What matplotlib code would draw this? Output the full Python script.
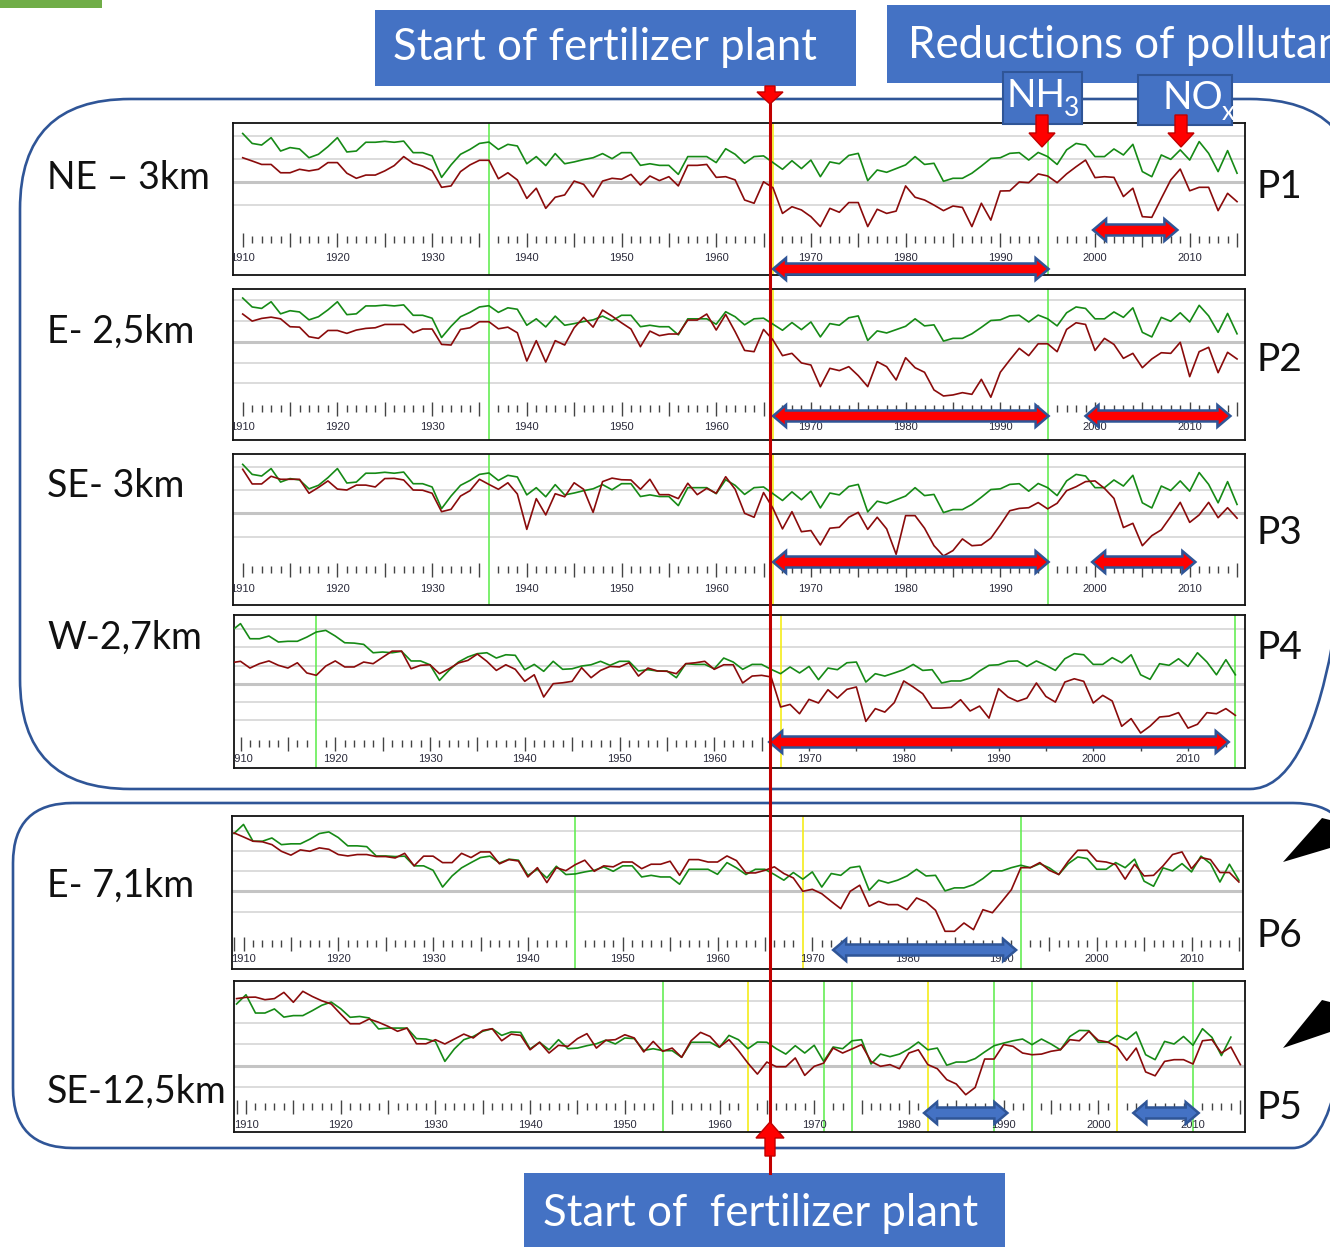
import numpy as np
import matplotlib.pyplot as plt
from matplotlib.patches import Rectangle, FancyBboxPatch, Polygon

plt.rcParams['font.family'] = ['Lato', 'DejaVu Sans']

W, H = 1330, 1247
fig = plt.figure(figsize=(W / 100, H / 100), dpi=100)

# ring-width deviations (grid units)
years_a = np.arange(1910, 2016)   # P1-P3
years_b = np.arange(1909, 2016)   # P4-P6

green_ref = [2.1, 1.67, 1.6, 1.92, 1.34, 1.49, 1.43, 1.05, 1.2, 1.53,
             1.92, 1.3, 1.34, 1.72, 1.72, 1.76, 1.72, 1.77, 1.27, 1.27,
             1.13, 0.2, 0.74, 1.2, 1.41, 1.67, 1.73, 1.41, 1.63, 1.56,
             0.79, 1.1, 0.71, 1.23, 0.79, 0.87, 0.97, 1.05, 1.23, 1.01,
             1.27, 1.27, 0.72, 0.79, 0.72, 0.72, 0.33, 1.1, 1.1, 1.1,
             0.84, 1.44, 1.2, 0.81, 1.1, 1.13, 0.84, 0.55, 0.92, 0.58,
             0.95, 0.23, 0.87, 0.79, 1.15, 1.24, 0.06, 0.52, 0.42, 0.58,
             0.74, 1.1, 0.76, 0.81, 0.03, 0.16, 0.16, 0.38, 0.69, 1.02,
             1.05, 1.24, 1.27, 0.95, 1.28, 1.1, 0.76, 1.39, 1.67, 1.6,
             1.1, 1.1, 1.43, 1.17, 1.63, 0.45, 0.23, 1.17, 0.98, 1.39,
             0.95, 1.75, 1.24, 0.45, 1.36, 0.38]

red_p1 = [1.05, 0.91, 0.76, 0.76, 0.40, 0.40, 0.55, 0.48, 0.55, 0.84,
          0.84, 0.38, 0.16, 0.30, 0.30, 0.48, 0.71, 1.10, 0.81, 0.69,
          0.49, -0.23, -0.17, 0.45, 0.74, 0.94, 0.94, 0.14, 0.40, 0.09,
          -0.71, -0.27, -1.14, -0.66, -0.56, 0.04, -0.10, -0.65, 0.04, 0.16,
          0.12, 0.33, -0.13, 0.26, 0.06, 0.23, -0.17, 0.72, 0.72, 0.76,
          0.20, 0.23, 0.09, -0.78, -0.92, 0.01, -0.25, -1.36, -1.07, -1.21,
          -1.5, -1.93, -1.14, -1.31, -0.89, -0.89, -1.93, -1.18, -1.36, -1.26,
          -0.17, -0.66, -0.78, -1.0, -1.24, -1.04, -1.1, -1.93, -0.92, -1.65,
          -0.39, -0.38, 0.0, -0.03, 0.35, 0.26, -0.03, 0.35, 0.66, 0.95,
          0.19, 0.23, 0.2, -0.63, -0.27, -1.5, -1.53, -0.71, 0.09, 0.56,
          -0.38, -0.23, -0.23, -1.24, -0.49, -0.85]

red_p2 = [1.33, 0.99, 1.12, 1.18, 1.1, 0.72, 0.7, 0.24, 0.16, 0.54,
          0.54, 0.4, 0.56, 0.64, 0.67, 0.83, 0.83, 0.83, 0.43, 0.61,
          0.61, -0.13, -0.16, 0.59, 0.67, 0.96, 0.96, 0.62, 0.7, 0.43,
          -0.93, 0.05, -0.98, 0.05, -0.16, 0.67, 1.17, 0.7, 1.52, 1.23,
          0.91, 0.61, -0.24, 0.51, 0.29, 0.37, 0.37, 1.04, 1.04, 1.33,
          0.56, 1.31, 0.48, -0.42, -0.48, 0.59, 0.08, -0.67, -0.56, -1.02,
          -1.12, -2.16, -1.28, -1.39, -1.2, -1.63, -2.16, -0.96, -1.2, -1.84,
          -0.77, -1.25, -1.47, -2.32, -2.61, -2.56, -2.45, -2.53, -1.81, -2.67,
          -1.47, -0.88, -0.32, -0.67, -0.1, -0.1, -0.48, 0.59, 0.91, 0.83,
          -0.42, 0.16, -0.13, -0.8, -0.56, -1.25, -0.83, -0.53, -0.56, -0.03,
          -1.68, -0.48, -0.27, -1.49, -0.51, -0.83]

red_p3 = [1.89, 1.26, 1.26, 1.59, 1.46, 1.46, 1.46, 0.86, 1.11, 1.39,
          1.04, 1.0, 1.21, 1.21, 1.13, 1.49, 1.5, 1.43, 1.0, 0.99,
          0.86, 0.07, 0.17, 0.74, 0.97, 1.46, 1.24, 1.03, 1.31, 0.83,
          -0.69, 0.63, -0.07, 0.84, 0.71, 1.31, 1.03, 0.04, 1.36, 1.51,
          1.44, 1.43, 1.03, 1.46, 0.8, 0.8, 0.63, 1.29, 0.8, 1.07,
          0.86, 1.57, 1.03, 0.0, -0.17, 0.89, 0.21, -0.67, 0.07, -0.79,
          -0.74, -1.36, -0.64, -0.6, -0.17, 0.04, -0.69, -0.17, -0.67, -1.76,
          -0.1, -0.1, -0.64, -1.39, -1.83, -1.6, -1.1, -1.39, -1.36, -1.07,
          -0.5, 0.11, 0.21, 0.24, 0.46, 0.19, 0.43, 0.97, 1.14, 1.36,
          1.39, 1.07, 0.64, -0.61, -0.43, -1.39, -0.96, -0.71, -0.14, 0.47,
          -0.39, -0.07, 0.47, -0.19, 0.24, -0.21]

green_p4 = [2.89,
            3.3, 2.47, 2.47, 2.62, 2.29, 2.33, 2.33, 2.56, 2.84, 2.93,
            2.62, 2.25, 2.23, 2.16, 1.7, 1.74, 1.7, 1.78, 1.25, 1.25,
            1.04, 0.18, 0.73, 1.19, 1.47, 1.65, 1.7, 1.41, 1.59, 1.56,
            0.77, 1.06, 0.68, 1.23, 0.79, 0.82, 0.97, 1.04, 1.23, 1.01,
            1.23, 1.23, 0.7, 0.77, 0.7, 0.7, 0.33, 1.1, 1.06, 1.06,
            0.82, 1.41, 1.19, 0.79, 1.06, 1.06, 0.79, 0.55, 0.92, 0.59,
            0.95, 0.22, 0.86, 0.77, 1.15, 1.19, 0.09, 0.55, 0.42, 0.59,
            0.77, 1.06, 0.73, 0.77, 0.04, 0.15, 0.15, 0.31, 0.7, 1.01,
            1.04, 1.23, 1.25, 0.95, 1.25, 1.01, 0.73, 1.37, 1.65, 1.59,
            1.06, 1.06, 1.43, 1.15, 1.59, 0.49, 0.24, 1.1, 1.01, 1.37,
            0.95, 1.7, 1.19, 0.49, 1.32, 0.49]

red_p4 = [1.15,
          1.23, 0.86, 1.1, 1.25, 1.01, 0.86, 1.15, 0.59, 0.46, 0.97,
          1.25, 0.92, 0.92, 1.19, 1.1, 1.45, 1.79, 1.79, 0.82, 1.01,
          1.04, 0.55, 0.82, 1.14, 1.28, 1.63, 1.23, 0.73, 1.04, 0.79,
          0.13, 0.49, -0.73, 0.0, 0.05, 0.13, 0.88, 0.33, 0.73, 0.95,
          0.92, 1.15, 0.42, 0.86, 0.7, 0.68, 0.55, 1.1, 1.15, 1.23,
          0.79, 1.04, 1.04, 0.04, 0.42, 0.46, 0.37, -1.28, -1.14, -1.65,
          -0.86, -1.06, -0.33, -0.79, -0.31, -0.18, -2.07, -1.37, -1.56, -1.04,
          0.15, -0.18, -0.55, -1.34, -1.34, -1.3, -0.88, -1.5, -1.23, -1.89,
          -0.27, -0.73, -0.97, -0.79, 0.04, -0.7, -1.01, 0.09, 0.27, 0.13,
          -1.06, -0.64, -0.95, -2.34, -1.92, -2.71, -2.33, -1.83, -1.78, -1.59,
          -2.44, -2.23, -1.59, -1.65, -1.37, -1.74]

green_p6 = [2.86,
            3.31, 2.48, 2.48, 2.64, 2.31, 2.35, 2.35, 2.58, 2.86, 2.94,
            2.66, 2.25, 2.25, 2.21, 1.75, 1.75, 1.72, 1.74, 1.26, 1.26,
            1.04, 0.21, 0.76, 1.16, 1.42, 1.67, 1.74, 1.4, 1.59, 1.54,
            0.79, 1.09, 0.66, 1.24, 0.83, 0.86, 0.96, 1.04, 1.21, 0.99,
            1.26, 1.26, 0.71, 0.79, 0.71, 0.71, 0.35, 1.09, 1.09, 1.09,
            0.84, 1.42, 1.16, 0.83, 1.09, 1.09, 0.83, 0.55, 0.93, 0.6,
            0.96, 0.21, 0.88, 0.79, 1.17, 1.24, 0.05, 0.55, 0.41, 0.55,
            0.76, 1.09, 0.76, 0.79, 0.02, 0.17, 0.17, 0.33, 0.63, 1.01,
            1.01, 1.17, 1.29, 1.17, 1.37, 1.16, 0.83, 1.37, 1.7, 1.62,
            1.09, 1.09, 1.42, 1.17, 1.59, 0.5, 0.25, 1.16, 1.01, 1.37,
            0.96, 1.74, 1.37, 0.46, 1.34, 0.55]

red_p6 = [2.89,
          2.69, 2.48, 2.45, 2.31, 1.98, 1.79, 2.05, 1.98, 2.15, 2.08,
          1.82, 1.75, 1.82, 1.82, 1.72, 1.72, 1.65, 1.88, 1.26, 1.74,
          1.74, 1.42, 1.42, 1.88, 1.67, 1.95, 1.95, 1.36, 1.57, 1.5,
          0.71, 1.17, 0.43, 1.17, 1.02, 1.32, 1.54, 0.99, 1.26, 1.21,
          1.45, 1.45, 1.12, 1.34, 1.34, 1.49, 0.79, 1.57, 1.57, 1.45,
          1.45, 1.75, 1.52, 0.91, 0.91, 1.04, 1.21, 0.88, 0.66, 0.0,
          0.1, -0.12, -0.5, -0.86, 0.0, 0.3, -0.74, -0.5, -0.66, -0.66,
          -0.91, -0.33, -0.53, -0.94, -1.98, -1.98, -1.57, -1.9, -0.91, -1.06,
          -0.5, 0.08, 1.17, 1.17, 1.42, 1.04, 0.83, 1.49, 2.03, 2.03,
          1.5, 1.45, 1.32, 0.6, 1.34, 0.76, 0.79, 1.26, 1.82, 1.95,
          1.12, 1.67, 1.57, 0.93, 0.93, 0.46]

green_p5 = [2.87,
            3.3, 2.45, 2.45, 2.64, 2.26, 2.33, 2.33, 2.56, 2.81, 2.96,
            2.65, 2.25, 2.29, 2.22, 1.71, 1.75, 1.75, 1.75, 1.26, 1.24,
            1.13, 0.2, 0.78, 1.21, 1.36, 1.6, 1.72, 1.41, 1.57, 1.55,
            0.78, 1.09, 0.74, 1.21, 0.79, 0.82, 0.93, 1.02, 1.19, 1.01,
            1.29, 1.26, 0.71, 0.79, 0.7, 0.7, 0.39, 1.09, 1.09, 1.09,
            0.85, 1.41, 1.21, 0.79, 1.1, 1.09, 0.79, 0.54, 0.93, 0.59,
            0.95, 0.2, 0.87, 0.79, 1.16, 1.21, 0.08, 0.54, 0.42, 0.54,
            0.78, 1.1, 0.74, 0.82, 0.02, 0.17, 0.17, 0.33, 0.64, 0.93,
            1.05, 1.16, 1.24, 0.98, 1.24, 1.01, 0.74, 1.36, 1.64, 1.63,
            1.09, 1.09, 1.41, 1.21, 1.57, 0.51, 0.28, 1.13, 1.01, 1.36,
            0.95, 1.72, 1.32, 0.47, 1.33, np.nan]

red_p5 = [3.12,
          3.18, 3.19, 3.07, 3.12, 3.41, 2.95, 3.46, 3.22, 3.02, 2.87,
          2.4, 1.95, 1.95, 2.17, 2.02, 1.83, 1.6, 1.75, 1.02, 1.02,
          1.21, 1.01, 1.24, 1.47, 1.29, 1.64, 1.72, 1.16, 1.47, 1.41,
          0.74, 1.09, 0.59, 0.95, 0.9, 1.26, 1.49, 0.82, 1.18, 1.21,
          1.44, 1.29, 0.64, 1.13, 0.67, 0.82, 0.39, 1.16, 1.55, 1.36,
          0.87, 1.21, 0.7, 0.12, -0.39, 0.17, -0.05, -0.05, 0.36, -0.45,
          -0.03, 0.12, 0.82, 0.59, 0.78, 0.98, 0.2, -0.03, 0.05, -0.14,
          0.59, 0.74, 0.05, -0.14, -0.65, -0.85, -1.35, -1.01, 0.31, 0.31,
          0.98, 0.9, 0.59, 0.51, 0.54, 0.67, 0.74, 1.21, 1.16, 1.6,
          1.18, 1.1, 0.87, 0.25, 0.82, -0.29, -0.47, 0.2, 0.28, 0.28,
          0.08, 1.16, 1.21, 0.59, 0.87, 0.05]

site_labels = ['NE – 3km', 'E- 2,5km', 'SE- 3km', 'W-2,7km', 'E- 7,1km', 'SE-12,5km']
plot_labels = ['P1', 'P2', 'P3', 'P4', 'P6', 'P5']

# marker lines in each panel (year, colour)
markers = [
    [(1936, 'g'), (1966, 'y'), (1995, 'g')],
    [(1936, 'g'), (1966, 'y'), (1995, 'g')],
    [(1936, 'g'), (1966, 'y'), (1995, 'g')],
    [(1918, 'g'), (1967, 'y'), (2015, 'g')],
    [(1945, 'g'), (1969, 'y'), (1992, 'g')],
    [(1954, 'g'), (1963, 'y'), (1971, 'g'), (1974, 'g'), (1982, 'y'),
     (1989, 'g'), (1993, 'g'), (2002, 'y'), (2010, 'g')],
]

# reduction periods (start year, end year, style)
periods = [
    [(1966.0, 1995.1, 'red', 'low'), (1999.8, 2008.7, 'red', 'mid')],
    [(1966.0, 1995.1, 'red', 'low'), (1999.0, 2014.3, 'red', 'low')],
    [(1966.0, 1995.1, 'red', 'mid'), (1999.7, 2010.6, 'red', 'mid')],
    [(1965.8, 2014.3, 'red', 'low')],
    [(1972.2, 1991.5, 'blue', 'low')],
    [(1981.6, 1990.4, 'blue', 'low'), (2003.7, 2010.6, 'blue', 'low')],
]

# panel layout in pixels: frame, year-1910 x position, px per year,
# zero-line y, px per grid unit, grid units, tick top y, label y, arrow y
panels = [
    dict(frame=(233, 123, 1245, 275), x0=242.7, ppy=9.47, yz=182.0, sp=23.1,
         grid=[2, 1, 0, -1], tick=233, lab=258, arr={'low': 269, 'mid': 230},
         years=years_a, green=green_ref, red=red_p1),
    dict(frame=(233, 289, 1245, 440), x0=242.7, ppy=9.47, yz=341.7, sp=20.8,
         grid=[2, 1, 0, -1, -2], tick=402, lab=427, arr={'low': 416, 'mid': 416},
         years=years_a, green=green_ref, red=red_p2),
    dict(frame=(233, 454, 1245, 605), x0=242.7, ppy=9.47, yz=513.3, sp=23.3,
         grid=[2, 1, 0, -1], tick=563, lab=589, arr={'low': 562, 'mid': 562},
         years=years_a, green=green_ref, red=red_p3),
    dict(frame=(234, 615, 1245, 768), x0=240.5, ppy=9.475, yz=683.7, sp=18.2,
         grid=[3, 2, 1, 0, -1, -2], tick=737, lab=759, arr={'low': 742},
         years=years_b, green=green_p4, red=red_p4),
    dict(frame=(232, 816, 1243, 969), x0=243.5, ppy=9.48, yz=891.3, sp=20.2,
         grid=[3, 2, 1, 0, -1], tick=937, lab=959, arr={'low': 950},
         years=years_b, green=green_p6, red=red_p6),
    dict(frame=(234, 981, 1245, 1132), x0=246.0, ppy=9.47, yz=1065.7, sp=21.5,
         grid=[3, 2, 1, 0, -1], tick=1100, lab=1125, arr={'low': 1113},
         years=years_b, green=green_p5, red=red_p5),
]
label_y = [178, 332, 486, 638, 886, 1092]
plabel_y = [187, 360, 533, 648, 936, 1108]

BLUE = '#4472C4'
EDGE = '#2F5597'


def px_axes(x0, y0, x1, y1, **kw):
    return fig.add_axes([x0 / W, 1 - y1 / H, (x1 - x0) / W, (y1 - y0) / H], **kw)


def dbl_arrow(ax, xa, xb, yc, hpx, ph, ppy, fc):
    hh = hpx / ph / 2
    sh = hh * 0.5
    hl = 13 / ppy
    v = [(xa, yc), (xa + hl, yc + hh), (xa + hl, yc + sh), (xb - hl, yc + sh),
         (xb - hl, yc + hh), (xb, yc), (xb - hl, yc - hh), (xb - hl, yc - sh),
         (xa + hl, yc - sh), (xa + hl, yc - hh)]
    ax.add_patch(Polygon(v, closed=True, transform=ax.get_xaxis_transform(),
                         fc=fc, ec=EDGE, lw=1.8, clip_on=False, zorder=6))


for i, p in enumerate(panels):
    fx0, fy0, fx1, fy1 = p['frame']
    ph = fy1 - fy0
    ax = px_axes(fx0, fy0, fx1, fy1)
    ax.set_xlim(1910 + (fx0 - p['x0']) / p['ppy'], 1910 + (fx1 - p['x0']) / p['ppy'])
    ax.set_ylim((p['yz'] - fy1) / p['sp'], (p['yz'] - fy0) / p['sp'])
    ax.set_xticks([])
    ax.set_yticks([])
    for s in ax.spines.values():
        s.set_linewidth(1.3)
        s.set_color('#111111')

    for g in p['grid']:
        ax.axhline(g, color='#c4c4c4' if g == 0 else '#d6d6d6',
                   lw=2.2 if g == 0 else 1.2, zorder=1)

    skip = [m[0] for m in markers[i]]
    for yr, c in markers[i]:
        ax.axvline(yr, color='#66ee55' if c == 'g' else '#f5ec1a', lw=1.2, zorder=2)

    # year ticks drawn inside the frame
    frac = lambda ypx: (fy1 - ypx) / ph
    yrs = [y for y in range(p['years'][0], 2016) if y not in skip]
    long_t = [y for y in yrs if y % 5 == 0 or y == p['years'][0]]
    short_t = [y for y in yrs if y not in long_t]
    tr = ax.get_xaxis_transform()
    ax.vlines(long_t, frac(p['tick'] + 14), frac(p['tick']), transform=tr,
              color='#444444', lw=1.0, zorder=3)
    ax.vlines(short_t, frac(p['tick'] + 10), frac(p['tick'] + 3), transform=tr,
              color='#444444', lw=1.0, zorder=3)
    for y in range(1910, 2011, 10):
        ax.text(y, frac(p['lab']), str(y), transform=tr, ha='center', va='center',
                fontsize=8, color='#2b2b3b', family=['Liberation Sans'], clip_on=True,
                zorder=3)

    ax.plot(p['years'], p['green'], color='#168a16', lw=1.2, zorder=4)
    ax.plot(p['years'], p['red'], color='#8a0b0b', lw=1.2, zorder=5)

    for xa, xb, kind, lvl in periods[i]:
        ypx = p['arr'][lvl]
        fc = '#ff0000' if kind == 'red' else BLUE
        dbl_arrow(ax, xa, xb, frac(ypx), 22, ph, p['ppy'], fc)

# overlay in pixel coordinates
ov = fig.add_axes([0, 0, 1, 1], zorder=10)
ov.set_xlim(0, W)
ov.set_ylim(H, 0)
ov.axis('off')
ov.patch.set_alpha(0)

ov.add_patch(Rectangle((0, 0), 102, 8, fc='#70AD47', ec='none'))

ov.add_patch(FancyBboxPatch((20, 99), 1340, 690, boxstyle='round,pad=0,rounding_size=110',
                            fc='none', ec=EDGE, lw=1.9))
ov.add_patch(FancyBboxPatch((13, 803), 1340, 345, boxstyle='round,pad=0,rounding_size=60',
                            fc='none', ec=EDGE, lw=1.9))

for txt, y in zip(site_labels, label_y):
    ov.text(47, y, txt, fontsize=27, va='center', ha='left', color='#111111')
for txt, y in zip(plot_labels, plabel_y):
    ov.text(1257, y, txt, fontsize=28, va='center', ha='left', color='#111111')

# blue title boxes
ov.add_patch(Rectangle((375, 10), 481, 76, fc=BLUE, ec='none'))
ov.text(393, 48, 'Start of fertilizer plant', fontsize=31.5, color='white', va='center')
ov.add_patch(Rectangle((887, 5), 460, 78, fc=BLUE, ec='none'))
ov.text(908, 45, 'Reductions of pollutants', fontsize=31.5, color='white', va='center')
ov.add_patch(Rectangle((524, 1173), 481, 80, fc=BLUE, ec='none'))
ov.text(543, 1213, 'Start of  fertilizer plant', fontsize=31.5, color='white', va='center')

ov.add_patch(Rectangle((1003, 72), 79, 52, fc=BLUE, ec=EDGE, lw=1.5))
ov.text(1006, 96, 'NH', fontsize=28, color='white', va='center')
ov.text(1064, 109, '3', fontsize=19, color='white', va='center')
ov.add_patch(Rectangle((1138, 75), 94, 50, fc=BLUE, ec=EDGE, lw=1.5))
ov.text(1162, 98, 'NO', fontsize=28, color='white', va='center')
ov.text(1222, 112, 'x', fontsize=19, color='white', va='center')


def down_arrow(cx, y0, y1, hw=13, sw=6, hl=14, up=False):
    if up:
        v = [(cx, y0), (cx + hw, y0 + hl), (cx + sw, y0 + hl), (cx + sw, y1),
             (cx - sw, y1), (cx - sw, y0 + hl), (cx - hw, y0 + hl)]
    else:
        v = [(cx - sw, y0), (cx + sw, y0), (cx + sw, y1 - hl), (cx + hw, y1 - hl),
             (cx, y1), (cx - hw, y1 - hl), (cx - sw, y1 - hl)]
    ov.add_patch(Polygon(v, closed=True, fc='#ff0000', ec='#c00000', lw=1, zorder=12))


down_arrow(1042, 115, 147)
down_arrow(1181, 115, 147)

# start of fertilizer plant marker line
ov.plot([770, 770], [90, 1173], color='#c00000', lw=2.2, zorder=11)
down_arrow(770, 86, 104, hw=13, sw=5, hl=12)
down_arrow(770, 1122, 1156, hw=14, sw=5, hl=16, up=True)

# black pointers at the right edge
ov.add_patch(Polygon([(1283, 862), (1322, 818), (1330, 820), (1330, 848)], closed=True,
                     fc='black', ec='none'))
ov.add_patch(Polygon([(1283, 1048), (1322, 1000), (1330, 1002), (1330, 1032)], closed=True,
                     fc='black', ec='none'))

fig.savefig('out.png', dpi=100)
